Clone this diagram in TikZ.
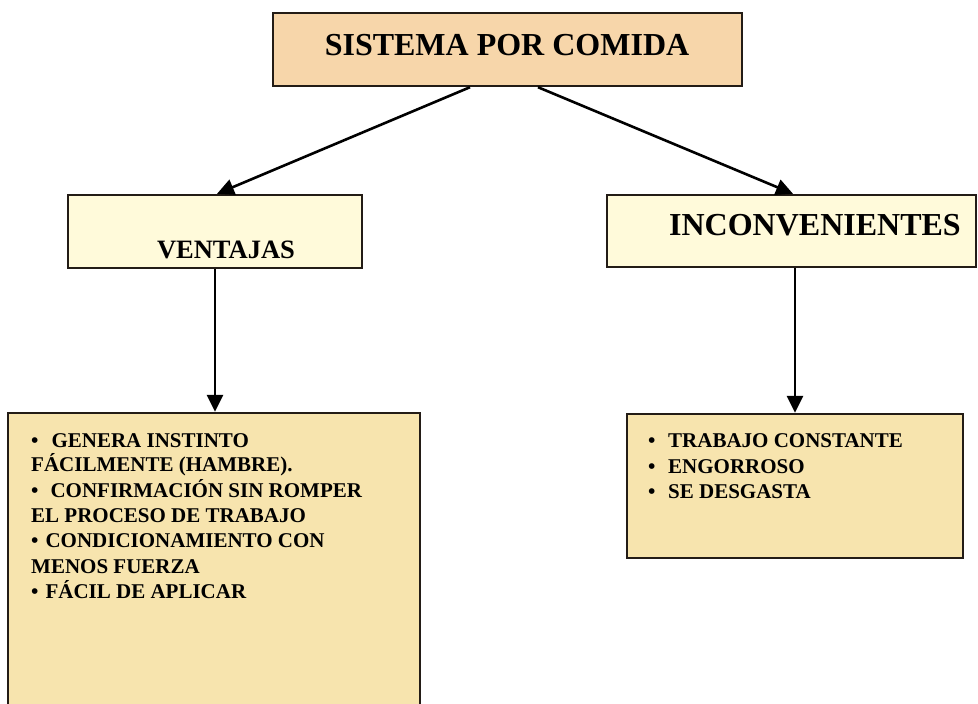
\documentclass[tikz,border=0pt]{standalone}
\usepackage{fontspec}
\setmainfont{Liberation Serif}
\usetikzlibrary{arrows.meta}
\definecolor{tanfill}{RGB}{247,214,170}
\definecolor{creamfill}{RGB}{255,250,218}
\definecolor{wheatfill}{RGB}{247,228,174}
\definecolor{edge}{RGB}{35,28,22}
\tikzset{
  box/.style={draw=edge, line width=2.4pt, rectangle, inner sep=0pt, text depth=0pt},
  arr/.style={line width=2.6pt, -{Triangle[width=16pt,length=17pt]}},
  title/.style={inner sep=0pt, anchor=base, font=\bfseries\fontsize{32}{38}\selectfont},
  sub/.style={inner sep=0pt, anchor=base, font=\bfseries\fontsize{26.5}{32}\selectfont},
  item/.style={inner sep=0pt, anchor=base west, font=\bfseries\fontsize{21}{25}\selectfont}
}
\begin{document}
\begin{tikzpicture}[x=1pt,y=-1pt]
\useasboundingbox (0,0) rectangle (978,704);
\clip (0,0) rectangle (978,704);
\fill[white] (0,0) rectangle (978,704);
% boxes
\node[box, fill=tanfill, minimum width=469pt, minimum height=73pt] (top) at (507.5,49.5) {};
\node[box, fill=creamfill, minimum width=294pt, minimum height=73pt] (ven) at (215,231.5) {};
\node[box, fill=creamfill, minimum width=369pt, minimum height=72pt] (inc) at (791.5,231) {};
\node[box, fill=wheatfill, minimum width=412pt, minimum height=310pt] (vl) at (214,568) {};
\node[box, fill=wheatfill, minimum width=336pt, minimum height=144pt] (vr) at (795,486) {};
% titles
\node[title] (ttop) at (507,55) {SISTEMA POR COMIDA};
\node[sub] (tven) at (226,258) {VENTAJAS};
\node[title] (tinc) at (815,235) {INCONVENIENTES};
% left list
\node[item] (l1) at (31,447) {\textbullet\hspace{13pt}GENERA INSTINTO};
\node[item] (l2) at (31,471.5) {FÁCILMENTE (HAMBRE).};
\node[item] (l3) at (31,497) {\textbullet\hspace{12pt}CONFIRMACIÓN SIN ROMPER};
\node[item] (l4) at (31,522) {EL PROCESO DE TRABAJO};
\node[item] (l5) at (31,547.5) {\textbullet\hspace{7pt}CONDICIONAMIENTO CON};
\node[item] (l6) at (31,573) {MENOS FUERZA};
\node[item] (l7) at (31,598) {\textbullet\hspace{7pt}FÁCIL DE APLICAR};
% right list
\node[item] (r1b) at (648,447) {\textbullet};
\node[item] (r1) at (668,447) {TRABAJO CONSTANTE};
\node[item] (r2b) at (648,473) {\textbullet};
\node[item] (r2) at (668,473) {ENGORROSO};
\node[item] (r3b) at (648,498.5) {\textbullet};
\node[item] (r3) at (668,498.5) {SE DESGASTA};
% connectors
\draw[arr] ([xshift=-37.5pt]top.south) -- ([xshift=2pt]ven.north);
\draw[arr] ([xshift=30.5pt]top.south) -- ([xshift=1.5pt]inc.north);
\draw[arr] (ven.south) -- (ven.south |- vl.north);
\draw[arr] ([xshift=3.5pt]inc.south) -- ([xshift=3.5pt]inc.south |- vr.north);
\end{tikzpicture}
\end{document}
